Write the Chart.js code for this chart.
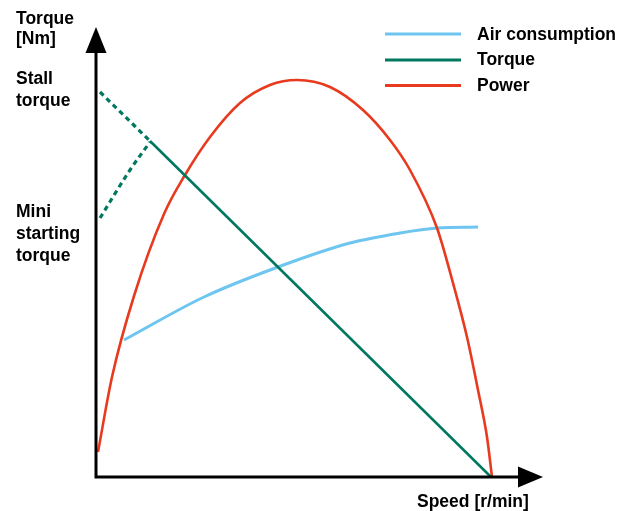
<!DOCTYPE html>
<html>
<head>
<meta charset="utf-8">
<script src="https://cdn.jsdelivr.net/npm/chart.js@4/dist/chart.umd.min.js"></script>
<style>
  html, body { margin: 0; padding: 0; background: #fff; }
  #wrap { width: 636px; height: 511px; position: relative; }
</style>
</head>
<body>
<div id="wrap"><canvas id="motorChart"></canvas></div>
<script>
// speed (x) and value (y) in arbitrary units
const airSpeed = [28, 108, 182, 254, 304, 341, 382];
const airValue = [137, 180, 210, 234, 244, 249, 250];

const torqueSpeed = [54, 395];
const torqueValue = [336, 0];

const stallSpeed = [4, 54];
const stallValue = [385, 336];

const miniStartSpeed = [4, 34, 54];
const miniStartValue = [259, 307, 335];

const powerSpeed = [2, 16, 38, 68, 89, 114, 144, 174, 201, 234, 267, 294, 314, 341, 357, 371, 382, 391, 396];
const powerValue = [25, 100, 181, 263, 302, 340, 374, 392, 397, 390, 367, 337, 307, 249, 194, 140, 87, 40, 0];

const legendLabels = ["Air consumption", "Torque", "Power"];
const axisTitleY = ["Torque", "[Nm]"];
const axisTitleX = "Speed [r/min]";
const stallLabel = ["Stall", "torque"];
const miniLabel = ["Mini", "starting", "torque"];

const AIR = "#6EC6F0";
const TORQUE = "#00785F";
const POWER = "#E83A1E";

function pts(xs, ys) {
  return xs.map((x, i) => ({ x: x, y: ys[i] }));
}

const FONT = "bold 17.5px 'Liberation Sans', Arial, sans-serif";

const decorPlugin = {
  id: "decor",
  afterDraw(chart) {
    const ctx = chart.ctx;
    const xs = chart.scales.x, ys = chart.scales.y;
    const ox = xs.getPixelForValue(0);
    const oy = ys.getPixelForValue(0);
    const topY = chart.chartArea.top;
    const tipX = xs.getPixelForValue(447);

    ctx.save();
    // axes
    ctx.strokeStyle = "#000";
    ctx.fillStyle = "#000";
    ctx.lineWidth = 3;
    ctx.beginPath();
    ctx.moveTo(ox, oy + 1.5);
    ctx.lineTo(ox, topY + 20);
    ctx.moveTo(ox - 1.5, oy);
    ctx.lineTo(tipX - 20, oy);
    ctx.stroke();
    // arrow heads
    ctx.beginPath();
    ctx.moveTo(ox, topY);
    ctx.lineTo(ox - 10.5, topY + 26);
    ctx.lineTo(ox + 10.5, topY + 26);
    ctx.closePath();
    ctx.fill();
    ctx.beginPath();
    ctx.moveTo(tipX, oy);
    ctx.lineTo(tipX - 25, oy - 10.5);
    ctx.lineTo(tipX - 25, oy + 10.5);
    ctx.closePath();
    ctx.fill();

    // text
    ctx.font = FONT;
    ctx.textAlign = "left";
    ctx.textBaseline = "alphabetic";
    ctx.fillText(axisTitleY[0], 16, 24);
    ctx.fillText(axisTitleY[1], 16, 43.5);
    ctx.fillText(stallLabel[0], 16, 84);
    ctx.fillText(stallLabel[1], 16, 106);
    ctx.fillText(miniLabel[0], 16, 217);
    ctx.fillText(miniLabel[1], 16, 239);
    ctx.fillText(miniLabel[2], 16, 260.5);
    ctx.fillText(axisTitleX, 417, 506.5);

    // legend
    const colors = [AIR, TORQUE, POWER];
    const lineY = [34, 60, 85.5];
    const textY = [39.5, 65, 90.5];
    legendLabels.forEach((lbl, i) => {
      ctx.strokeStyle = colors[i];
      ctx.lineWidth = 3;
      ctx.beginPath();
      ctx.moveTo(385, lineY[i]);
      ctx.lineTo(461, lineY[i]);
      ctx.stroke();
      ctx.fillStyle = "#000";
      ctx.fillText(lbl, 477, textY[i]);
    });
    ctx.restore();
  }
};

new Chart(document.getElementById("motorChart"), {
  type: "line",
  data: {
    datasets: [
      {
        label: "Torque",
        data: pts(torqueSpeed, torqueValue),
        borderColor: TORQUE,
        borderWidth: 2.6,
        tension: 0
      },
      {
        label: "Stall",
        data: pts(stallSpeed, stallValue),
        borderColor: TORQUE,
        borderWidth: 3.2,
        borderDash: [5, 4],
        tension: 0
      },
      {
        label: "Mini starting",
        data: pts(miniStartSpeed, miniStartValue),
        borderColor: TORQUE,
        borderWidth: 3.2,
        borderDash: [5, 4],
        cubicInterpolationMode: "monotone"
      },
      {
        label: "Power",
        data: pts(powerSpeed, powerValue),
        borderColor: POWER,
        borderWidth: 2.6,
        cubicInterpolationMode: "monotone"
      },
      {
        label: "Air consumption",
        data: pts(airSpeed, airValue),
        borderColor: AIR,
        borderWidth: 3,
        cubicInterpolationMode: "monotone"
      }
    ]
  },
  options: {
    responsive: true,
    maintainAspectRatio: false,
    animation: false,
    layout: { padding: { left: 96, right: 90, top: 27, bottom: 34 } },
    elements: { point: { radius: 0, hoverRadius: 0 } },
    plugins: { legend: { display: false }, tooltip: { enabled: false } },
    scales: {
      x: { type: "linear", min: 0, max: 450, display: false },
      y: { type: "linear", min: 0, max: 450, display: false }
    }
  },
  plugins: [decorPlugin]
});
</script>
</body>
</html>
